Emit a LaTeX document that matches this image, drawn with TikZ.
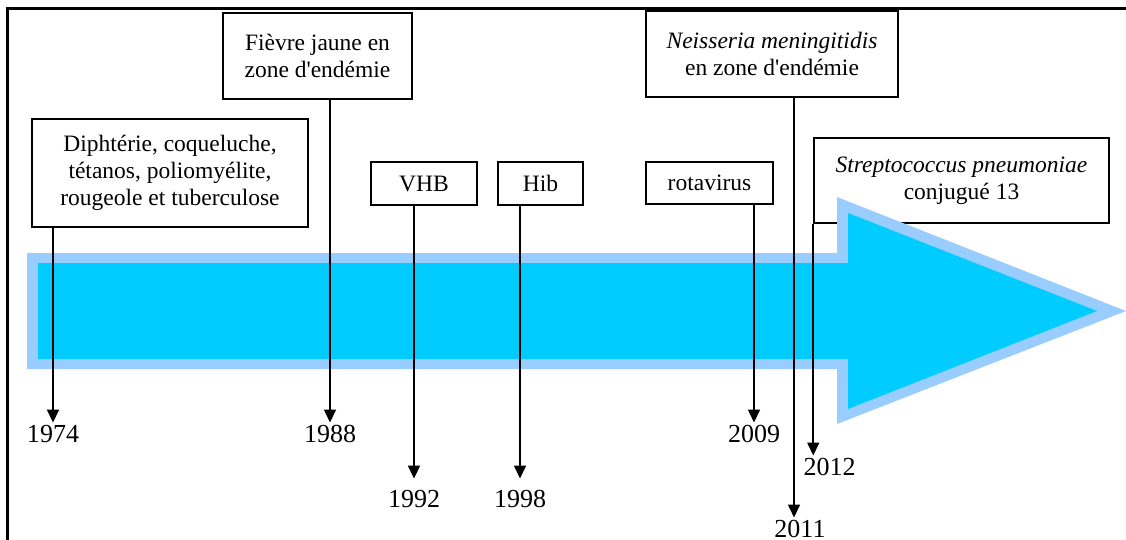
\documentclass[tikz,border=0pt]{standalone}
\usepackage{fontspec}
\setmainfont{Liberation Serif}
\newfontfamily\noligfont{Liberation Serif}[Ligatures=TeXOff]
\usetikzlibrary{arrows.meta}
\definecolor{lightb}{HTML}{99CCFF}
\definecolor{cyanb}{HTML}{00CCFF}
\newcommand{\apos}{{\noligfont '}}
\begin{document}
\begin{tikzpicture}[x=1pt,y=-1pt,
  evbox/.style={draw, line width=1.5pt, align=center, inner sep=0pt, font=\fontsize{23.5}{27}\selectfont},
  yearlbl/.style={inner xsep=0pt, inner ysep=2pt, anchor=base, font=\fontsize{26}{30}\selectfont},
  conn/.style={line width=1.6pt, -{Triangle[width=12pt,length=13pt]}},
  framel/.style={line width=3pt}]
\useasboundingbox (0,0) rectangle (1126,540);
% frame
\draw[framel] (7.8,545) -- (7.8,8.8) -- (1130,8.8);
% boxes
\node[evbox, minimum width=276pt, minimum height=108pt] (diph) at (170,173) {Diphtérie, coqueluche,\\tétanos, poliomyélite,\\rougeole et tuberculose};
\node[evbox, minimum width=189pt, minimum height=86pt] (fievre) at (317.5,56) {Fièvre jaune en\\zone d\apos endémie};
\node[evbox, minimum width=106pt, minimum height=43pt] (vhb) at (424,183.5) {VHB};
\node[evbox, minimum width=85pt, minimum height=43pt] (hib) at (540.5,183.5) {Hib};
\node[evbox, minimum width=127pt, minimum height=42pt] (rota) at (709.5,183) {rotavirus};
\node[evbox, minimum width=252pt, minimum height=86pt] (neis) at (772,54) {\textit{Neisseria meningitidis}\\en zone d\apos endémie};
\node[evbox, minimum width=295pt, minimum height=85pt] (strep) at (961.5,180.5) {\textit{Streptococcus pneumoniae}\\conjugué 13};
% big arrow
\fill[lightb] (27,253) -- (837,253) -- (837,197) -- (1126,311) -- (837,424) -- (837,369) -- (27,369) -- cycle;
\fill[cyanb] (38,263) -- (848,263) -- (848,213) -- (1097,311) -- (848,409) -- (848,359) -- (38,359) -- cycle;
% years
\node[yearlbl] (y1974) at (53,442) {1974};
\node[yearlbl] (y1988) at (330,442) {1988};
\node[yearlbl] (y1992) at (414,507) {1992};
\node[yearlbl] (y1998) at (520,507) {1998};
\node[yearlbl] (y2009) at (754,442) {2009};
\node[yearlbl] (y2012) at (829.5,475) {2012};
\node[yearlbl] (y2011) at (800,537) {2011};
\coordinate (c2011) at (794,0);
% connectors
\draw[conn] (diph.south -| y1974.north) -- (y1974.north);
\draw[conn] (fievre.south -| y1988.north) -- (y1988.north);
\draw[conn] (vhb.south -| y1992.north) -- ([yshift=9pt]y1992.north);
\draw[conn] (hib.south -| y1998.north) -- ([yshift=9pt]y1998.north);
\draw[conn] (rota.south -| y2009.north) -- (y2009.north);
\draw[conn] (neis.south -| c2011) -- (y2011.north -| c2011);
\draw[conn] (strep.south west) -- (strep.south west |- y2012.north);
\end{tikzpicture}
\end{document}
